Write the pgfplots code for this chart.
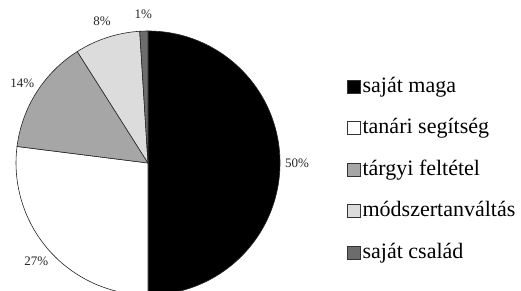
\documentclass[border=0pt]{standalone}
\usepackage{fontspec}
\setmainfont{Liberation Serif}
\newfontfamily\lserif{Liberation Serif}
\usepackage{pgfplots}
\usepackage{pgfplotstable}
\pgfplotsset{compat=1.18}
\definecolor{sliceA}{RGB}{0,0,0}
\definecolor{sliceB}{RGB}{255,255,255}
\definecolor{sliceC}{RGB}{166,166,166}
\definecolor{sliceD}{RGB}{220,220,220}
\definecolor{sliceE}{RGB}{108,108,108}
\newcommand\pctfont{\lserif\fontsize{13}{15}\selectfont}
\newcommand\legfont{\lserif\fontsize{22}{26}\selectfont}
\pgfplotstableread{
value color
50 sliceA
27 sliceB
14 sliceC
8 sliceD
1 sliceE
}\piedata
\begin{document}
\begin{tikzpicture}
\begin{axis}[name=ax,
  x=1pt, y=1pt, xmin=0, xmax=521, ymin=0, ymax=290,
  enlargelimits=false, hide axis, clip=false,
  legend cell align=left,
  legend image code/.code={\draw[#1, draw=black!80, line width=0.6pt] (0pt,-6.5pt) rectangle (13pt,6.5pt);},
  legend style={draw=none, fill=none, inner sep=0pt, outer sep=0pt,
    at={(axis cs:347,214)}, anchor=north west,
    font=\legfont,
    nodes={inner sep=0pt, text height=16pt, text depth=5pt},
    row sep=20.5pt, column sep=2pt},
]
\addlegendimage{fill=sliceA}\addlegendentry{\legfont saját maga}
\addlegendimage{fill=sliceB}\addlegendentry{\legfont tanári segítség}
\addlegendimage{fill=sliceC}\addlegendentry{\legfont tárgyi feltétel}
\addlegendimage{fill=sliceD}\addlegendentry{\legfont módszertanváltás}
\addlegendimage{fill=sliceE}\addlegendentry{\legfont saját család}
\pgfplotstablegetrowsof{\piedata}
\pgfmathtruncatemacro\nrows{\pgfplotsretval-1}
\gdef\cumul{90}
\pgfplotsforeachungrouped \i in {0,...,\nrows}{%
  \pgfplotstablegetelem{\i}{value}\of\piedata \let\v\pgfplotsretval
  \pgfplotstablegetelem{\i}{color}\of\piedata \let\c\pgfplotsretval
  \pgfmathsetmacro\endang{\cumul-3.6*\v}%
  \pgfmathsetmacro\midang{(\cumul+\endang)/2}%
  \edef\temp{\noexpand\filldraw[fill=\c, draw=black!85, line width=0.6pt] (axis cs:148,127) -- ++(\cumul:132pt) arc[start angle=\cumul, end angle=\endang, radius=132pt] -- cycle;
  \noexpand\path (axis cs:148,127) ++(\midang:149pt) node[font=\noexpand\pctfont, inner sep=0pt, text=black!85] {\v\noexpand\%};}%
  \temp
  \global\let\cumul\endang
}
\end{axis}
\pgfresetboundingbox
\useasboundingbox (ax.south west) rectangle (ax.north east);
\end{tikzpicture}
\end{document}
